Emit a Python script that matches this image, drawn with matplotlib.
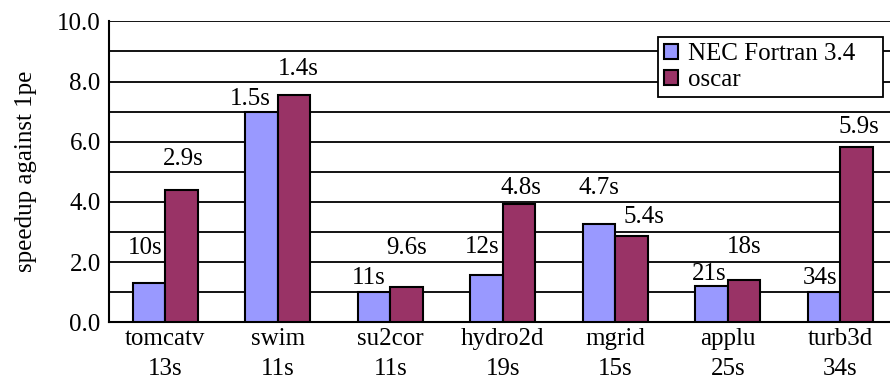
import matplotlib.pyplot as plt
import numpy as np

plt.rcParams['font.family'] = ['Liberation Serif', 'DejaVu Serif']

# benchmarks and sequential run times (second line of the tick label)
benchmarks = ['tomcatv', 'swim', 'su2cor', 'hydro2d', 'mgrid', 'applu', 'turb3d']
seq_times = ['13s', '11s', '11s', '19s', '15s', '25s', '34s']

# speedup against 1pe
nec_speedup = [1.29, 6.98, 1.01, 1.57, 3.28, 1.20, 1.01]
oscar_speedup = [4.40, 7.56, 1.16, 3.93, 2.86, 1.40, 5.84]

# parallel execution times written above the bars
nec_times = ['10s', '1.5s', '11s', '12s', '4.7s', '21s', '34s']
oscar_times = ['2.9s', '1.4s', '9.6s', '4.8s', '5.4s', '18s', '5.9s']

# where each time label sits relative to its bar top (data units) and centre (points)
nec_dy = [1.17, 0.45, 0.46, 0.93, 1.19, 0.40, 0.46]
oscar_dy = [1.02, 0.87, 1.30, 0.54, 0.65, 1.09, 0.64]
nec_dx = [-3, -8, -4, -3, 0, -1.5, -3]
oscar_dx = [1, 3, 0, 1.5, 9, 0, 1.5]

NEC_COLOR = '#9999FF'
OSCAR_COLOR = '#993366'
FS = 18

fig = plt.figure(figsize=(8.9, 3.78), dpi=100)
# the plot area runs a little past the right edge of the picture
ax = fig.add_axes([109 / 890, 1 - 322.3 / 378, 787.5 / 890, 301 / 378])

x = np.arange(len(benchmarks))
w = 0.289
ax.bar(x - w / 2, nec_speedup, w, color=NEC_COLOR, edgecolor='black',
       linewidth=1.5, label='NEC Fortran 3.4', zorder=3)
ax.bar(x + w / 2, oscar_speedup, w, color=OSCAR_COLOR, edgecolor='black',
       linewidth=1.5, label='oscar', zorder=3)

for i in range(len(benchmarks)):
    ax.annotate(nec_times[i], (x[i] - w / 2, nec_speedup[i] + nec_dy[i]),
                xytext=(nec_dx[i], 0), textcoords='offset points',
                ha='center', va='center', fontsize=FS, zorder=4)
    ax.annotate(oscar_times[i], (x[i] + w / 2, oscar_speedup[i] + oscar_dy[i]),
                xytext=(oscar_dx[i], 0), textcoords='offset points',
                ha='center', va='center', fontsize=FS, zorder=4)

ax.set_xlim(-0.5, len(benchmarks) - 0.5)
ax.set_ylim(0, 10)
ax.set_yticks(np.arange(0, 10.1, 2))
ax.set_yticklabels(['%.1f' % v for v in np.arange(0, 10.1, 2)])
ax.set_yticks(np.arange(0, 10.1, 1), minor=True)
ax.grid(axis='y', which='both', color='black', linewidth=1.3, zorder=0)
ax.set_xticks(x)
ax.set_xticklabels(['%s\n%s' % (b, t) for b, t in zip(benchmarks, seq_times)],
                   linespacing=1.45)
ax.tick_params(axis='both', which='both', length=0, labelsize=FS)
ax.tick_params(axis='y', pad=6)
ax.tick_params(axis='x', pad=4)

for s in ['top', 'right']:
    ax.spines[s].set_visible(False)
ax.spines['left'].set_linewidth(1.5)
ax.spines['bottom'].set_linewidth(1.5)

ax.set_ylabel('speedup against 1pe', fontsize=FS, labelpad=14)

leg = ax.legend(loc='upper left', bbox_to_anchor=(0.697, 0.745, 0.286, 0.203),
                mode='expand', fontsize=FS, frameon=True, fancybox=False,
                shadow=False, borderpad=0.25, handlelength=0.56,
                handleheight=0.56, handletextpad=0.4, labelspacing=0.15,
                borderaxespad=0)
leg.get_frame().set_edgecolor('black')
leg.get_frame().set_linewidth(1.3)
leg.get_frame().set_alpha(1)
leg.set_zorder(5)

fig.savefig('out.png', dpi=100)
